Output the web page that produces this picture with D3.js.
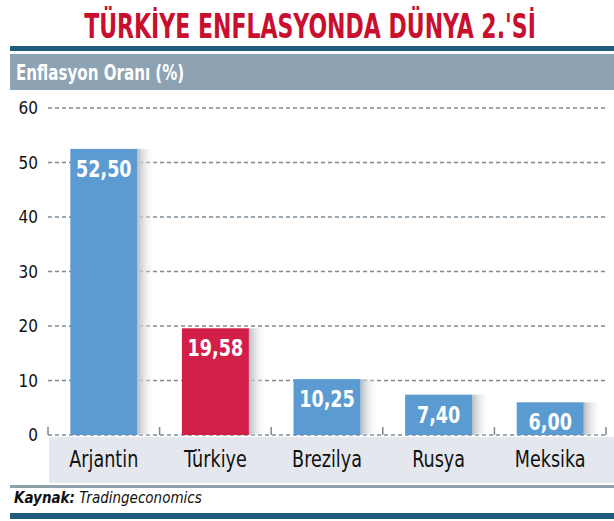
<!DOCTYPE html>
<html><head><meta charset="utf-8">
<script src="https://cdn.jsdelivr.net/npm/d3@7"></script>
<style>
body{margin:0;background:#fff}
text{font-family:"DejaVu Sans Condensed","DejaVu Sans",sans-serif;font-stretch:condensed}
</style></head>
<body><svg id="c" width="614" height="521"></svg>
<script>
var countries = ["Arjantin", "Türkiye", "Brezilya", "Rusya", "Meksika"];
var rates = [52.50, 19.58, 10.25, 7.40, 6.00];
var yTicks = [0, 10, 20, 30, 40, 50, 60];

var svg = d3.select("#c");
var plotLeft = 48, plotRight = 606, plotTop = 108, plotBottom = 435;

function squeeze(cx, k) { return "translate(" + cx + ",0) scale(" + k + ",1) translate(" + (-cx) + ",0)"; }

// title
svg.append("text").attr("x", 310).attr("y", 38).attr("text-anchor", "middle")
  .attr("fill", "#c8102e").attr("font-size", 34).attr("font-weight", "bold")
  .attr("transform", squeeze(310, 0.72))
  .text("TÜRKİYE ENFLASYONDA DÜNYA 2.'Sİ");
svg.append("rect").attr("x", 10).attr("y", 46).attr("width", 604).attr("height", 5).attr("fill", "#1f5c7c");
svg.append("rect").attr("x", 10).attr("y", 54).attr("width", 604).attr("height", 36).attr("fill", "#8da2b3");
svg.append("text").attr("x", 16).attr("y", 80).attr("fill", "#fff").attr("font-size", 21).attr("font-weight", "bold")
  .attr("transform", squeeze(16, 0.8))
  .text("Enflasyon Oranı (%)");

var x = d3.scaleBand().domain(countries).range([plotLeft, plotRight]).paddingInner(0.4).paddingOuter(0.2);
var y = d3.scaleLinear().domain([0, 60]).range([plotBottom, plotTop]);

// label band
svg.append("rect").attr("x", 49).attr("y", plotBottom + 2).attr("width", 614 - 49).attr("height", 46).attr("fill", "#e4e8ee");
svg.append("rect").attr("x", 10).attr("y", 485).attr("width", 604).attr("height", 3).attr("fill", "#8fa0ab");
svg.append("rect").attr("x", 10).attr("y", 513).attr("width", 604).attr("height", 6).attr("fill", "#1f5c7c");

// grid
svg.selectAll(".grid").data(yTicks).enter().append("line")
  .attr("x1", plotLeft).attr("x2", plotRight).attr("y1", d => y(d)).attr("y2", d => y(d))
  .attr("stroke", "#7c8a96").attr("stroke-width", 1.5).attr("stroke-dasharray", "4,3");
svg.selectAll(".yl").data(yTicks).enter().append("text")
  .attr("x", 38).attr("y", d => y(d) + 6).attr("text-anchor", "end")
  .attr("font-size", 17).attr("fill", "#111").text(d => d);

// small ticks at category boundaries
var bounds = countries.map(c => x(c) - x.step() * x.paddingInner() / 2);
bounds.push(plotRight);
svg.selectAll(".tk").data(bounds).enter().append("line")
  .attr("x1", d => d).attr("x2", d => d).attr("y1", plotBottom - 8).attr("y2", plotBottom)
  .attr("stroke", "#7c8a96").attr("stroke-width", 1.5);

// shadows
var defs = svg.append("defs");
var g = defs.append("linearGradient").attr("id", "sh");
g.append("stop").attr("offset", "0").attr("stop-color", "#b8bcc2");
g.append("stop").attr("offset", "1").attr("stop-color", "#fff").attr("stop-opacity", 0);
svg.selectAll(".sh").data(rates).enter().append("rect")
  .attr("x", (d, i) => x(countries[i]) + x.bandwidth()).attr("y", d => y(d))
  .attr("width", 18).attr("height", d => plotBottom - y(d)).attr("fill", "url(#sh)");

svg.selectAll(".bar").data(rates).enter().append("rect")
  .attr("x", (d, i) => x(countries[i])).attr("y", d => y(d))
  .attr("width", x.bandwidth()).attr("height", d => plotBottom - y(d))
  .attr("fill", (d, i) => i === 1 ? "#d21f48" : "#5b9bd1");

svg.selectAll(".val").data(rates).enter().append("text")
  .attr("x", (d, i) => x(countries[i]) + x.bandwidth() / 2).attr("y", d => y(d) + 28)
  .attr("transform", (d, i) => squeeze(x(countries[i]) + x.bandwidth() / 2, 0.85))
  .attr("text-anchor", "middle").attr("fill", "#fff").attr("font-size", 23).attr("font-weight", "bold")
  .text(d => d.toFixed(2).replace(".", ","));

svg.selectAll(".cat").data(countries).enter().append("text")
  .attr("x", d => x(d) + x.bandwidth() / 2).attr("y", 467)
  .attr("transform", d => squeeze(x(d) + x.bandwidth() / 2, 0.85))
  .attr("text-anchor", "middle").attr("fill", "#111").attr("font-size", 23)
  .text(d => d);

var src = svg.append("text").attr("x", 14).attr("y", 503).attr("font-size", 15)
  .attr("font-style", "italic").attr("font-family", "'Open Sans',sans-serif").attr("fill", "#111");
src.append("tspan").attr("font-weight", "bold").text("Kaynak:");
src.append("tspan").text(" Tradingeconomics");
</script></body></html>
